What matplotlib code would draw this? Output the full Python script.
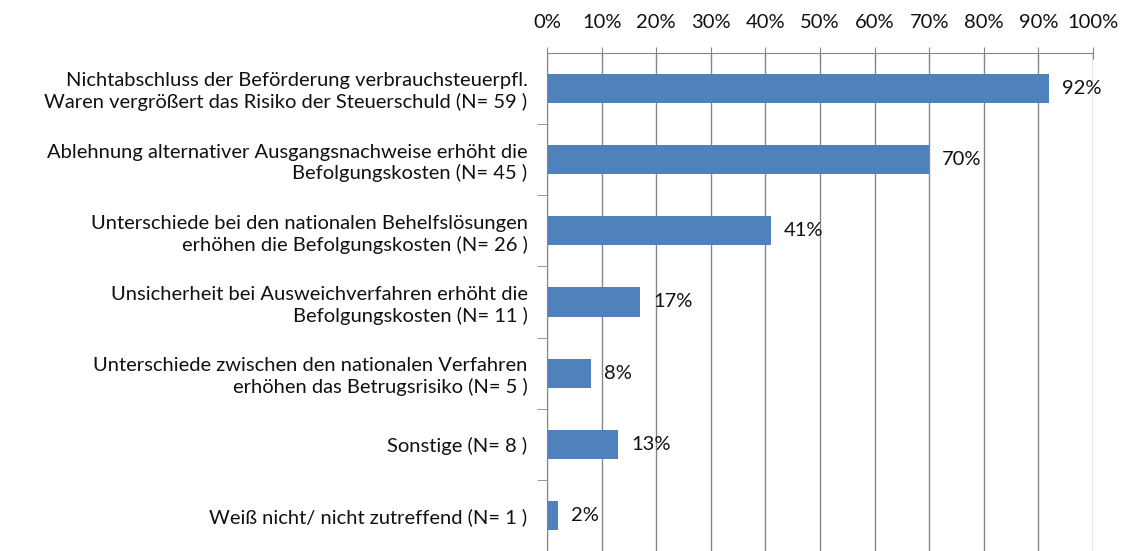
import numpy as np
import matplotlib.pyplot as plt
from matplotlib.ticker import FixedLocator

plt.rcParams['font.family'] = ['Lato', 'DejaVu Sans']

labels = [
    "Nichtabschluss der Beförderung verbrauchsteuerpfl.\nWaren vergrößert das Risiko der Steuerschuld (N= 59 )",
    "Ablehnung alternativer Ausgangsnachweise erhöht die\nBefolgungskosten (N= 45 )",
    "Unterschiede bei den nationalen Behelfslösungen\nerhöhen die Befolgungskosten (N= 26 )",
    "Unsicherheit bei Ausweichverfahren erhöht die\nBefolgungskosten (N= 11 )",
    "Unterschiede zwischen den nationalen Verfahren\nerhöhen das Betrugsrisiko (N= 5 )",
    "Sonstige (N= 8 )",
    "Weiß nicht/ nicht zutreffend (N= 1 )",
]
values = [92, 70, 41, 17, 8, 13, 2]
x_ticks = list(range(0, 101, 10))

grey = '#868686'
bar_color = '#4F81BD'
txt = '#111111'
fs = 14.5

fig = plt.figure(figsize=(11.21, 5.51), dpi=100)
ax = fig.add_axes([0.488, 0.0, 0.487, 0.904])

y = np.arange(len(values))
ax.barh(y, values, height=0.41, color=bar_color, zorder=2)

# value labels right of the bars
for yi, v in zip(y, values):
    ax.text(v + 2.4, yi, f"{v}%", va='center', ha='left', fontsize=fs,
            color=txt, zorder=3)

ax.set_xlim(0, 100)
ax.set_ylim(len(values) - 0.5, -0.5)

ax.xaxis.set_ticks_position('top')
ax.set_xticks(x_ticks)
ax.set_xticklabels([f"{t}%" for t in x_ticks], fontsize=fs, color=txt)
ax.tick_params(axis='x', direction='inout', length=8, color=grey, pad=12)
ax.grid(axis='x', color=grey, linewidth=1, zorder=0)
ax.set_axisbelow(True)

ax.set_yticks(y)
ax.set_yticklabels(labels, fontsize=fs, color=txt, linespacing=1.25)
ax.tick_params(axis='y', length=0, pad=14)
ax.yaxis.set_minor_locator(FixedLocator(np.arange(0.5, len(values) - 0.5, 1)))
ax.tick_params(axis='y', which='minor', length=7, color=grey, direction='out')
for lbl in ax.get_yticklabels():
    lbl.set_horizontalalignment('right')

for s in ['right', 'bottom']:
    ax.spines[s].set_visible(False)
ax.spines['top'].set_color(grey)
ax.spines['left'].set_color(grey)

plt.savefig('out.png', dpi=100)
